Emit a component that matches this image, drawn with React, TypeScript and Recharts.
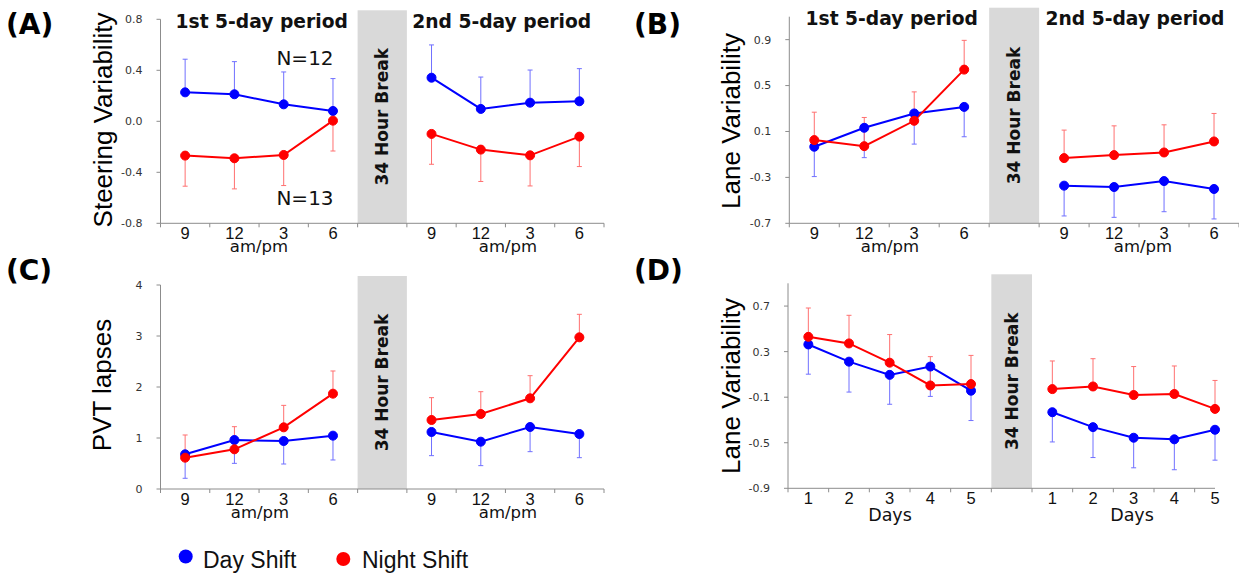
import React from 'react';
import { LineChart, Line, XAxis, YAxis, ErrorBar, ReferenceArea } from 'recharts';

// category labels, '' marks the 34 hour break slot
const timeLabels = ['9', '12', '3', '6', '', '9', '12', '3', '6'];
const dayLabels = ['1', '2', '3', '4', '5', '', '1', '2', '3', '4', '5'];

// (A) steering variability
const steerDay = [0.227, 0.212, 0.133, 0.081, null, 0.342, 0.097, 0.146, 0.157];
const steerDayErr = [0.26, 0.256, 0.254, 0.254, null, 0.257, 0.25, 0.256, 0.256];
const steerNight = [-0.269, -0.29, -0.264, 0.005, null, -0.099, -0.222, -0.267, -0.12];
const steerNightErr = [0.24, 0.24, 0.24, 0.238, null, 0.238, 0.25, 0.24, 0.235];

// (B) lane variability by time of day
const laneDay = [-0.033, 0.132, 0.257, 0.314, null, -0.372, -0.384, -0.332, -0.401];
const laneDayErr = [0.26, 0.26, 0.267, 0.26, null, 0.264, 0.264, 0.267, 0.261];
const laneNight = [0.025, -0.028, 0.193, 0.639, null, -0.132, -0.106, -0.083, 0.013];
const laneNightErr = [0.243, 0.25, 0.252, 0.255, null, 0.244, 0.255, 0.241, 0.244];

// (C) PVT lapses
const pvtDay = [0.68, 0.961, 0.941, 1.046, null, 1.118, 0.928, 1.216, 1.078];
const pvtDayErr = [0.47, 0.458, 0.451, 0.477, null, 0.464, 0.47, 0.484, 0.464];
const pvtNight = [0.614, 0.778, 1.209, 1.869, null, 1.353, 1.471, 1.778, 2.974];
const pvtNightErr = [0.445, 0.444, 0.431, 0.445, null, 0.438, 0.437, 0.444, 0.451];

// (D) lane variability by day
const dailyDay = [0.363, 0.212, 0.096, 0.169, -0.043, null, -0.232, -0.363, -0.456, -0.47, -0.386];
const dailyDayErr = [0.261, 0.267, 0.258, 0.262, 0.262, null, 0.261, 0.267, 0.264, 0.267, 0.267];
const dailyNight = [0.43, 0.372, 0.203, 0.003, 0.015, null, -0.029, -0.006, -0.081, -0.072, -0.203];
const dailyNightErr = [0.253, 0.247, 0.247, 0.253, 0.252, null, 0.247, 0.244, 0.25, 0.246, 0.25];

const steerTicks = [-0.8, -0.4, 0, 0.4, 0.8];
const laneTicks = [-0.7, -0.3, 0.1, 0.5, 0.9];
const pvtTicks = [0, 1, 2, 3, 4];
const dailyTicks = [-0.9, -0.5, -0.1, 0.3, 0.7];

const BLUE = '#0000ff';
const RED = '#ff0000';
const AXIS = '#8c8c8c';

// error bars only point away from the other group
function buildRows(labels: string[], day: (number | null)[], dayErr: (number | null)[],
  night: (number | null)[], nightErr: (number | null)[], dayUp: boolean) {
  return labels.map((_, i) => {
    const de = dayErr[i];
    const ne = nightErr[i];
    return {
      x: i + 0.5,
      day: day[i],
      night: night[i],
      dayErr: de == null ? null : dayUp ? [0, de] : [de, 0],
      nightErr: ne == null ? null : dayUp ? [ne, 0] : [0, ne],
    };
  });
}

// integer ticks = slot boundaries (marks only), half ticks = slot centres (labels only)
const XTick = (props: any) => {
  const { x, y, payload, labels } = props;
  const v = payload.value;
  if (Number.isInteger(v)) {
    return <line x1={x} y1={y - 4} x2={x} y2={y} stroke={AXIS} />;
  }
  return (
    <text x={x} y={y + 12} textAnchor="middle" fontFamily="Liberation Sans" fontSize={16.5} fill="#111">
      {labels[Math.floor(v)]}
    </text>
  );
};

const BreakShape = (props: any) => {
  const { x, y, width, height } = props;
  const top = y - 9;
  const h = height + 9;
  const cx = x + width / 2 + 6;
  const cy = top + h / 2;
  return (
    <g>
      <rect x={x} y={top} width={width} height={h} fill="#d9d9d9" />
      <text x={cx} y={cy} transform={`rotate(-90 ${cx} ${cy})`} textAnchor="middle"
        fontFamily="DejaVu Sans" fontWeight="bold" fontSize={17} fill="#111">
        34 Hour Break
      </text>
    </g>
  );
};

interface PanelProps {
  left: number;
  top: number;
  width: number;
  height: number;
  yWidth: number;
  margin: { top: number; right: number; bottom: number; left: number };
  rows: any[];
  labels: string[];
  domain: [number, number];
  yTicks: number[];
  decimals: number;
  xEnd?: number;
}

const Panel: React.FC<PanelProps> = ({ left, top, width, height, yWidth, margin, rows, labels, domain, yTicks, decimals, xEnd }) => {
  const n = labels.length;
  const xMax = xEnd ?? n;
  const gap = labels.indexOf('');
  const xTicks = Array.from({ length: Math.round(xMax * 2) + 1 }, (_, i) => i / 2);
  return (
    <div style={{ position: 'absolute', left, top }}>
      <LineChart width={width} height={height} data={rows} margin={margin}>
        <XAxis type="number" dataKey="x" domain={[0, xMax]} ticks={xTicks} interval={0}
          tickLine={false} tickSize={4} tickMargin={0} height={30} stroke={AXIS}
          tick={<XTick labels={labels} />} />
        <YAxis type="number" domain={domain} ticks={yTicks} interval={0} width={yWidth}
          tickSize={4} tickMargin={14} stroke={AXIS}
          tick={{ fill: '#333', fontSize: 11, fontFamily: 'DejaVu Sans' }}
          tickFormatter={(v: number) => v.toFixed(decimals)} />
        <ReferenceArea x1={gap} x2={gap + 1} ifOverflow="visible" shape={BreakShape} />
        <Line type="linear" dataKey="day" stroke={BLUE} strokeWidth={2} isAnimationActive={false}
          dot={{ r: 4.5, fill: BLUE, stroke: BLUE, strokeWidth: 1 }}>
          <ErrorBar dataKey="dayErr" direction="y" width={2.5} stroke="#7070ff" strokeWidth={1} />
        </Line>
        <Line type="linear" dataKey="night" stroke={RED} strokeWidth={2} isAnimationActive={false}
          dot={{ r: 4.5, fill: RED, stroke: RED, strokeWidth: 1 }}>
          <ErrorBar dataKey="nightErr" direction="y" width={2.5} stroke="#ff7070" strokeWidth={1} />
        </Line>
      </LineChart>
    </div>
  );
};

const rowsA = buildRows(timeLabels, steerDay, steerDayErr, steerNight, steerNightErr, true);
const rowsB = buildRows(timeLabels, laneDay, laneDayErr, laneNight, laneNightErr, false);
const rowsC = buildRows(timeLabels, pvtDay, pvtDayErr, pvtNight, pvtNightErr, false);
const rowsD = buildRows(dayLabels, dailyDay, dailyDayErr, dailyNight, dailyNightErr, false);

const yLabel = (x: number, y: number, text: string) => (
  <text x={x} y={y} transform={`rotate(-90 ${x} ${y})`} textAnchor="middle"
    fontFamily="Liberation Sans" fontSize={26} fill="#000">{text}</text>
);

const App: React.FC = () => {
  const bold = { fontFamily: 'DejaVu Sans', fontWeight: 'bold' as const, fontSize: 18.7, fill: '#111' };
  const axisTitle = { fontFamily: 'DejaVu Sans', fontSize: 16.5, fill: '#111' };
  const panelTag = { fontFamily: 'DejaVu Sans', fontWeight: 'bold' as const, fontSize: 28, fill: '#000' };
  return (
    <div style={{ position: 'absolute', left: 0, top: 0, width: 1239, height: 576, background: '#fff', overflow: 'hidden' }}>
      <Panel left={0} top={0} width={620} height={270} yWidth={160.5}
        margin={{ top: 19.3, right: 16, bottom: 16.7, left: 0 }}
        rows={rowsA} labels={timeLabels} domain={[-0.8, 0.8]} yTicks={steerTicks} decimals={1} />
      <Panel left={620} top={0} width={619} height={270} yWidth={169.3}
        margin={{ top: 16.7, right: 0, bottom: 16.7, left: 0 }}
        rows={rowsB} labels={timeLabels} domain={[-0.7, 1.1]} yTicks={laneTicks} decimals={1} />
      <Panel left={0} top={270} width={620} height={306} yWidth={160.5}
        margin={{ top: 15, right: 16, bottom: 57, left: 0 }}
        rows={rowsC} labels={timeLabels} domain={[0, 4]} yTicks={pvtTicks} decimals={0} />
      <Panel left={620} top={270} width={619} height={306} yWidth={168}
        margin={{ top: 13.3, right: 24, bottom: 57.7, left: 0 }}
        rows={rowsD} labels={dayLabels} domain={[-0.9, 0.9]} yTicks={dailyTicks} decimals={1}
        xEnd={dayLabels.length - 0.5} />

      <svg width={1239} height={576} style={{ position: 'absolute', left: 0, top: 0, pointerEvents: 'none' }}>
        <text x={6} y={34} {...panelTag}>(A)</text>
        <text x={634} y={34} {...panelTag}>(B)</text>
        <text x={6} y={280} {...panelTag}>(C)</text>
        <text x={634} y={280} {...panelTag}>(D)</text>

        <text x={261.7} y={27.5} textAnchor="middle" {...bold}>1st 5-day period</text>
        <text x={501.7} y={27.5} textAnchor="middle" {...bold}>2nd 5-day period</text>
        <text x={891.7} y={24.5} textAnchor="middle" {...bold}>1st 5-day period</text>
        <text x={1135} y={24.5} textAnchor="middle" {...bold}>2nd 5-day period</text>

        <text x={305} y={65} textAnchor="middle" fontFamily="DejaVu Sans" fontSize={20} fill="#111">N=12</text>
        <text x={305} y={205} textAnchor="middle" fontFamily="DejaVu Sans" fontSize={20} fill="#111">N=13</text>

        {yLabel(112, 120, 'Steering Variability')}
        {yLabel(740, 121, 'Lane Variability')}
        {yLabel(111, 385, 'PVT lapses')}
        {yLabel(740, 386, 'Lane Variability')}

        <text x={259} y={252} textAnchor="middle" {...axisTitle}>am/pm</text>
        <text x={508} y={252} textAnchor="middle" {...axisTitle}>am/pm</text>
        <text x={890} y={252} textAnchor="middle" {...axisTitle}>am/pm</text>
        <text x={1143} y={252} textAnchor="middle" {...axisTitle}>am/pm</text>
        <text x={260} y={518} textAnchor="middle" {...axisTitle}>am/pm</text>
        <text x={508} y={518} textAnchor="middle" {...axisTitle}>am/pm</text>
        <text x={890} y={521} textAnchor="middle" {...axisTitle} fontSize={17.5}>Days</text>
        <text x={1132} y={521} textAnchor="middle" {...axisTitle} fontSize={17.5}>Days</text>

        <circle cx={185.7} cy={556.5} r={7} fill={BLUE} />
        <text x={203} y={568} fontFamily="Liberation Sans" fontSize={23} fill="#111">Day Shift</text>
        <circle cx={343.3} cy={559} r={7} fill={RED} />
        <text x={362} y={568} fontFamily="Liberation Sans" fontSize={23} fill="#111">Night Shift</text>
      </svg>
    </div>
  );
};

export default App;
